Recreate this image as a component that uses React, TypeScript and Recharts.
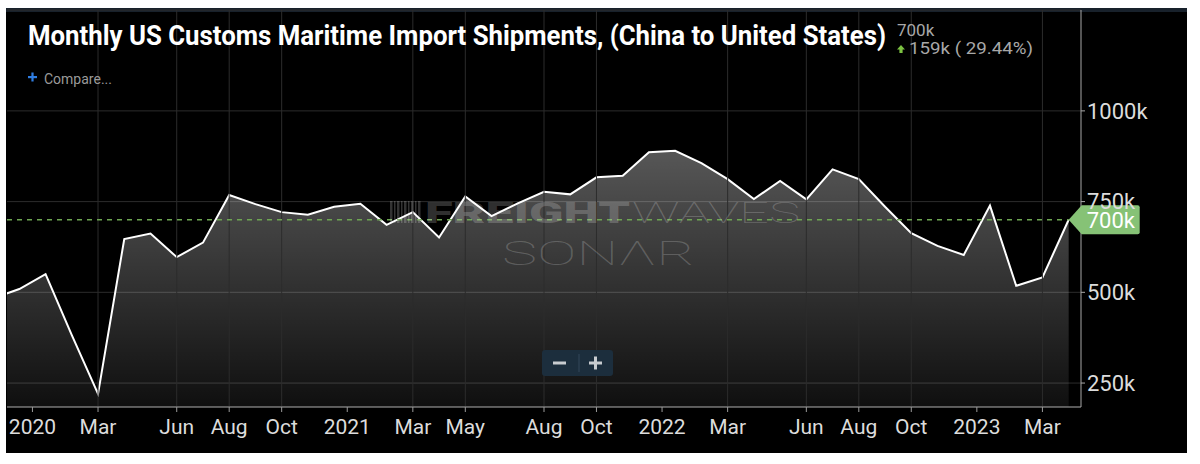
import { ComposedChart, Area, XAxis, YAxis, CartesianGrid, ReferenceLine, ReferenceDot } from 'recharts';

// monthly shipments, thousands. first entry is Nov 2019 (month index -2), Jan 2020 = 0
const FIRST_INDEX = -2;
const shipments = [
  484, 509, 550, 382, 220, 647, 662, 597, 637, 768, 743, 721, 714, 736,
  744, 686, 721, 651, 764, 710, 745, 777, 770, 817, 821, 886,
  890, 856, 812, 757, 807, 756, 839, 812, 736, 663, 628, 603,
  739, 518, 541, 700,
];

const monthTicks = [2, 5, 7, 9, 14, 16, 19, 21, 26, 29, 31, 33, 38];
const monthLabels = ['Mar', 'Jun', 'Aug', 'Oct', 'Mar', 'May', 'Aug', 'Oct', 'Mar', 'Jun', 'Aug', 'Oct', 'Mar'];
const yearTicks = [-0.5, 11.5, 23.5, 35.5];
const yearLabels = ['2020', '2021', '2022', '2023'];
const yTicks = [250, 500, 750, 1000];

const X_DOMAIN: [number, number] = [-1.47, 39.47];
const Y_DOMAIN: [number, number] = [184, 1278];
const LAST_VALUE = 700;

const data = shipments.map((v, i) => ({ m: i + FIRST_INDEX, v }));
const lastIndex = shipments.length - 1 + FIRST_INDEX;

const tickText: Record<string, string> = {};
monthTicks.forEach((t, i) => (tickText[String(t)] = monthLabels[i]));
yearTicks.forEach((t, i) => (tickText[String(t)] = yearLabels[i]));
const allTicks = [...yearTicks, ...monthTicks].sort((a, b) => a - b);

const FONT = 'Roboto, "Noto Sans", sans-serif';

function PriceTag({ cx, cy }: { cx?: number; cy?: number }) {
  if (cx == null || cy == null) return null;
  const h = 14.5;
  return (
    <g>
      <path
        d={`M${cx},${cy} L${cx + 13},${cy - h} L${cx + 69},${cy - h} Q${cx + 71},${cy - h} ${cx + 71},${cy - h + 2} L${cx + 71},${cy + h - 2} Q${cx + 71},${cy + h} ${cx + 69},${cy + h} L${cx + 13},${cy + h} Z`}
        fill="#86c276"
      />
      <text x={cx + 18} y={cy + 8} fill="#ffffff" fontSize={22} fontFamily={FONT}>
        {LAST_VALUE}k
      </text>
    </g>
  );
}

export default function App() {
  return (
    <div style={{ position: 'absolute', left: 0, top: 0, width: 1200, height: 464, background: '#fff', overflow: 'hidden' }}>
      <div style={{ position: 'absolute', left: 6, top: 8, width: 1181, height: 445, background: '#000', borderTop: '4px solid #18212b', boxSizing: 'border-box' }} />
      <div style={{ position: 'absolute', left: 0, top: 0 }}>
        <ComposedChart width={1200} height={464} data={data} margin={{ top: 10, right: 39, bottom: 27, left: 7 }}>
          <defs>
            <linearGradient id="fillGrad" x1="0" y1="0" x2="0" y2="1">
              <stop offset="0%" stopColor="#ffffff" stopOpacity={0.34} />
              <stop offset="100%" stopColor="#ffffff" stopOpacity={0.06} />
            </linearGradient>
          </defs>
          <CartesianGrid vertical={false} stroke="#2c2c2c" />
          {monthTicks.map((t) => (
            <ReferenceLine key={t} x={t} stroke="#2c2c2c" />
          ))}
          <XAxis
            dataKey="m"
            type="number"
            domain={X_DOMAIN}
            allowDataOverflow
            ticks={allTicks}
            interval={0}
            tickFormatter={(v) => tickText[String(v)] ?? ''}
            height={30}
            stroke="#9a9a9a"
            tickSize={5}
            tickMargin={7}
            tick={{ fill: '#dcdcdc', fontSize: 21, fontFamily: FONT }}
          />
          <YAxis
            orientation="right"
            type="number"
            domain={Y_DOMAIN}
            allowDataOverflow
            ticks={yTicks}
            tickFormatter={(v) => `${v}k`}
            width={80}
            stroke="#a8a8a8"
            tickSize={4}
            tickMargin={2}
            tick={{ fill: '#dcdcdc', fontSize: 22, fontFamily: FONT }}
          />
          <Area
            type="linear"
            dataKey="v"
            stroke="#ffffff"
            strokeWidth={2}
            fill="url(#fillGrad)"
            fillOpacity={1}
            dot={false}
            activeDot={false}
            isAnimationActive={false}
          />
          <ReferenceLine
            segment={[{ x: X_DOMAIN[0], y: LAST_VALUE }, { x: lastIndex, y: LAST_VALUE }]}
            stroke="#6ea653"
            strokeDasharray="5 5"
            strokeWidth={1.3}
          />
          <ReferenceDot x={lastIndex} y={LAST_VALUE} r={0} shape={(p: any) => <PriceTag cx={p.cx} cy={p.cy} />} />
        </ComposedChart>
      </div>
      <svg width={1200} height={464} style={{ position: 'absolute', left: 0, top: 0, pointerEvents: 'none' }}>
        {/* watermark */}
        <g fill="#ffffff" fillOpacity={0.2}>
          {[0, 4, 7, 11, 14, 18, 21, 25, 28].map((dx, i) => (
            <rect key={i} x={390 + dx} y={201} width={i % 2 ? 1.5 : 2.5} height={22} />
          ))}
          <text x={425} y={223} fontSize={30} fontWeight={900} fontFamily={FONT} textLength={205} lengthAdjust="spacingAndGlyphs">
            FREIGHT
          </text>
          <text x={632} y={223} fontSize={30} fontWeight={100} fontFamily={FONT} textLength={168} lengthAdjust="spacingAndGlyphs">
            WAVES
          </text>
          <text x={502} y={265} fontSize={34} fontWeight={100} fontFamily={FONT} textLength={193} lengthAdjust="spacingAndGlyphs">
            SONΛR
          </text>
        </g>
        {/* zoom buttons */}
        <rect x={542} y={350} width={71} height={26} rx={3} fill="#1c2e3d" />
        <line x1={579} y1={354} x2={579} y2={372} stroke="#33475a" strokeWidth={1} />
        <rect x={553} y={361.5} width={13} height={3} fill="#c8ccd0" />
        <rect x={589} y={361.5} width={13} height={3} fill="#c8ccd0" />
        <rect x={594} y={356.5} width={3} height={13} fill="#c8ccd0" />
        {/* title and header */}
        <text x={28} y={45} fill="#ffffff" fontSize={28} fontWeight={700} fontFamily={FONT} textLength={858} lengthAdjust="spacingAndGlyphs">
          Monthly US Customs Maritime Import Shipments, (China to United States)
        </text>
        <text x={897} y={36} fill="#a8a8a8" fontSize={17} fontFamily={FONT}>
          700k
        </text>
        <path d="M901,45 L905,49.5 L902.6,49.5 L902.6,53 L899.4,53 L899.4,49.5 L897,49.5 Z" fill="#7cc242" />
        <text x={909} y={54} fill="#a8a8a8" fontSize={17} fontFamily={FONT} textLength={124} lengthAdjust="spacingAndGlyphs">
          159k ( 29.44%)
        </text>
        <rect x={28} y={76} width={9} height={2.2} fill="#2f7de1" />
        <rect x={31.4} y={72.5} width={2.2} height={9} fill="#2f7de1" />
        <text x={44} y={84} fill="#9a9a9a" fontSize={14} fontFamily={FONT}>
          Compare...
        </text>
      </svg>
    </div>
  );
}
